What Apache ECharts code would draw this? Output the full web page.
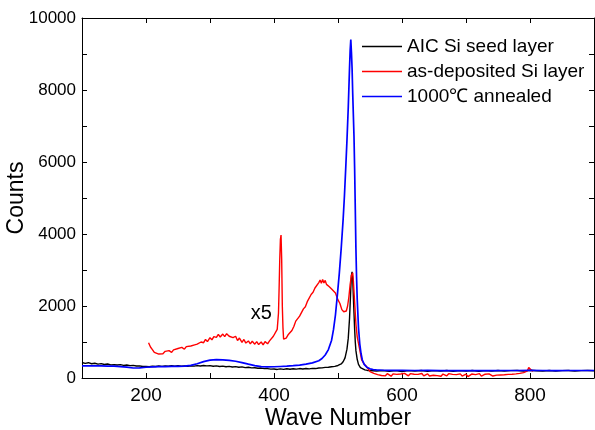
<!DOCTYPE html>
<html>
<head>
<meta charset="utf-8">
<script src="https://cdn.jsdelivr.net/npm/echarts@6/dist/echarts.min.js"></script>
<style>
html,body{margin:0;padding:0;background:#fff;}
#c{width:595px;height:430px;}
</style>
</head>
<body>
<div id="c"></div>
<script>
const seriesNames = ['AIC Si seed layer', 'as-deposited Si layer', '1000\u2103 annealed'];
const xTicks = [200, 400, 600, 800];
const yTicks = [0, 2000, 4000, 6000, 8000, 10000];

const blackX = [100,105,110,115,120,125,130,135,140,145,150,155,160,165,170,175,180,185,190,195,200,205,210,215,220,225,230,235,240,245,250,255,260,265,270,275,280,285,290,295,300,305,310,315,320,325,330,335,340,345,350,355,360,365,370,375,380,385,390,395,400,405,410,415,420,425,430,435,440,445,450,455,460,465,470,475,480,485,490,495,500,505,508,511,514,516,518,519,520,521,522,523,524,525,526,527,528,530,532,535,538,542,546,550,555,560,570,580,590,600,610,620,630,640,650,660,670,680,690,700,710,720,730,740,750,760,770,780,790,800,810,820,830,840,850,860,870,880,890,900];
const blackY = [430,405,425,395,410,385,400,375,390,365,370,360,372,350,362,345,352,333,338,320,322,312,326,318,334,322,338,325,340,328,342,330,338,326,340,330,345,332,346,338,345,328,338,320,330,312,322,305,315,298,308,288,298,282,284,270,276,260,262,246,250,238,254,240,256,244,258,246,262,250,264,254,268,262,278,280,294,298,314,322,348,390,450,560,800,1100,1650,2050,2500,2850,2950,2750,2250,1800,1350,1000,760,520,380,290,250,225,210,205,200,195,210,185,205,180,205,190,210,185,205,190,210,185,205,190,210,185,205,190,210,190,205,210,190,215,200,190,210,190,205,210,190,205,210,200];

const redX = [204,207,210,213,216,220,223,226,230,233,236,240,243,246,250,253,256,260,263,266,270,273,276,280,283,286,290,293,296,300,303,306,310,313,316,320,323,326,330,333,336,340,343,346,350,353,356,360,363,366,370,373,376,380,383,386,390,393,396,399,402,405,407,408,409,410,411,412,413,414,415,417,419,422,425,428,431,434,437,440,443,446,449,452,455,458,461,464,467,470,472,474,476,478,480,482,484,486,488,490,493,496,498,500,503,506,509,511,513,515,517,519,521,523,524,526,528,530,532,534,537,541,545,550,553,556,559,562,565,568,571,574,577,580,583,586,589,592,595,598,601,604,607,610,613,616,619,622,625,628,631,634,637,640,643,646,649,652,655,658,661,664,667,670,673,676,679,682,685,688,691,694,697,700,703,706,709,712,715,718,721,724,727,730,733,736,739,742,745,748,751,754,757,760,763,766,769,772,775,778,781,784,787,790,793,796,798,799,800,801,803,805];
const redY = [980,860,790,710,720,665,720,670,740,685,760,710,780,735,820,770,850,800,870,860,890,880,920,940,910,1000,980,1070,1010,1120,1060,1150,1130,1210,1140,1220,1150,1230,1160,1200,1120,1160,1040,1110,990,1070,970,1030,950,1020,940,1010,930,1000,920,1010,950,1030,1040,1160,1200,1350,1800,2500,3300,3850,3970,3300,2000,1400,1080,1070,1110,1200,1230,1320,1430,1580,1620,1720,1760,1920,1980,2120,2160,2320,2380,2500,2530,2650,2720,2630,2740,2640,2710,2600,2600,2540,2540,2470,2450,2360,2320,2170,2070,1900,1840,1790,1860,2000,2250,2600,2850,2920,2700,2100,1500,1150,960,780,500,380,310,180,150,130,110,95,130,70,110,60,120,80,50,115,70,100,55,110,75,130,85,60,120,80,105,50,100,70,125,60,95,115,55,100,75,120,65,95,50,110,80,60,120,75,100,45,95,70,115,55,90,105,40,85,110,55,95,65,120,50,90,105,60,115,75,55,110,80,130,85,120,90,140,100,135,105,150,115,160,130,170,150,180,200,290,340,250,300,200,195];

const blueX = [100,110,120,130,140,150,160,170,180,190,200,210,220,230,240,250,260,270,280,290,300,310,320,330,340,350,360,370,380,390,400,410,420,430,440,450,460,470,475,480,485,490,493,496,499,502,505,508,510,512,514,516,518,519,520,521,522,523,524,525,526,527,528,529,530,532,534,536,538,541,545,550,555,560,570,580,600,620,640,660,680,700,720,740,760,780,800,820,840,860,880,900];
const blueY = [335,335,338,335,330,328,318,300,278,282,298,310,315,318,322,325,332,350,395,455,495,510,505,492,465,428,385,345,318,308,312,320,328,342,360,385,420,480,540,640,790,1050,1350,1750,2300,2900,3600,4400,5040,5800,6600,7500,8600,9100,9400,9050,8600,7900,7300,6700,5800,4700,3600,2800,2200,1400,950,680,500,380,300,255,235,225,215,212,210,208,210,207,209,206,208,207,209,208,210,208,207,209,208,208];

const annotation = { text: 'x5', x: 380, y: 1805 };

function zip(xs, ys) { return xs.map((x, i) => [x, ys[i]]); }

const FONT = '"Liberation Sans", Arial, sans-serif';
const axisLineStyle = { show: true, onZero: false, lineStyle: { color: '#000', width: 1 } };
const tickStyle = { show: true, inside: true, length: 5, lineStyle: { color: '#000' } };

const chart = echarts.init(document.getElementById('c'));
chart.setOption({
  animation: false,
  backgroundColor: '#fff',
  textStyle: { fontFamily: FONT, color: '#000' },
  grid: { left: 82, right: 1, top: 18, bottom: 52, containLabel: false, outerBoundsMode: 'none' },
  legend: {
    orient: 'vertical', left: 357, top: 29, padding: 5,
    itemWidth: 40, itemHeight: 1.5, itemGap: 0, icon: 'rect',
    textStyle: { fontSize: 19, lineHeight: 25, color: '#000', fontFamily: FONT },
    data: seriesNames
  },
  xAxis: [{
    type: 'value', min: 100, max: 900, interval: 100, position: 'bottom',
    axisLine: axisLineStyle, axisTick: tickStyle,
    axisLabel: { fontSize: 19, color: '#000', margin: 8, fontFamily: FONT,
      formatter: v => xTicks.indexOf(v) >= 0 ? String(v) : '' },
    splitLine: { show: false },
    name: 'Wave Number', nameLocation: 'middle', nameGap: 29, nameMoveOverlap: false,
    nameTextStyle: { fontSize: 23, color: '#000', fontFamily: FONT }
  }, {
    type: 'value', min: 100, max: 900, interval: 100, position: 'top',
    axisLine: axisLineStyle, axisTick: tickStyle,
    axisLabel: { show: false }, splitLine: { show: false }
  }],
  yAxis: [{
    type: 'value', min: 0, max: 10000, interval: 1000, position: 'left',
    axisLine: axisLineStyle, axisTick: tickStyle,
    axisLabel: { fontSize: 17, color: '#000', margin: 6, fontFamily: FONT,
      formatter: v => yTicks.indexOf(v) >= 0 ? String(v) : '' },
    splitLine: { show: false },
    name: 'Counts', nameLocation: 'middle', nameGap: 54, nameRotate: 90, nameMoveOverlap: false,
    nameTextStyle: { fontSize: 23, color: '#000', fontFamily: FONT }
  }, {
    type: 'value', min: 0, max: 10000, interval: 1000, position: 'right',
    axisLine: axisLineStyle, axisTick: tickStyle,
    axisLabel: { show: false }, splitLine: { show: false }
  }],
  series: [{
    name: seriesNames[0], type: 'line', data: zip(blackX, blackY),
    showSymbol: false, symbol: 'none', color: '#000',
    lineStyle: { color: '#000', width: 1.4 }
  }, {
    name: seriesNames[1], type: 'line', data: zip(redX, redY),
    showSymbol: false, symbol: 'none', color: '#ff0000',
    lineStyle: { color: '#ff0000', width: 1.4 },
    markPoint: {
      symbol: 'circle', symbolSize: 1, itemStyle: { color: 'rgba(0,0,0,0)' },
      data: [{ coord: [annotation.x, annotation.y], value: annotation.text }],
      label: { show: true, position: 'inside', formatter: annotation.text,
        fontSize: 20, color: '#000', fontFamily: FONT }
    }
  }, {
    name: seriesNames[2], type: 'line', data: zip(blueX, blueY),
    showSymbol: false, symbol: 'none', color: '#0000ff',
    lineStyle: { color: '#0000ff', width: 1.7 }
  }]
});
</script>
</body>
</html>
